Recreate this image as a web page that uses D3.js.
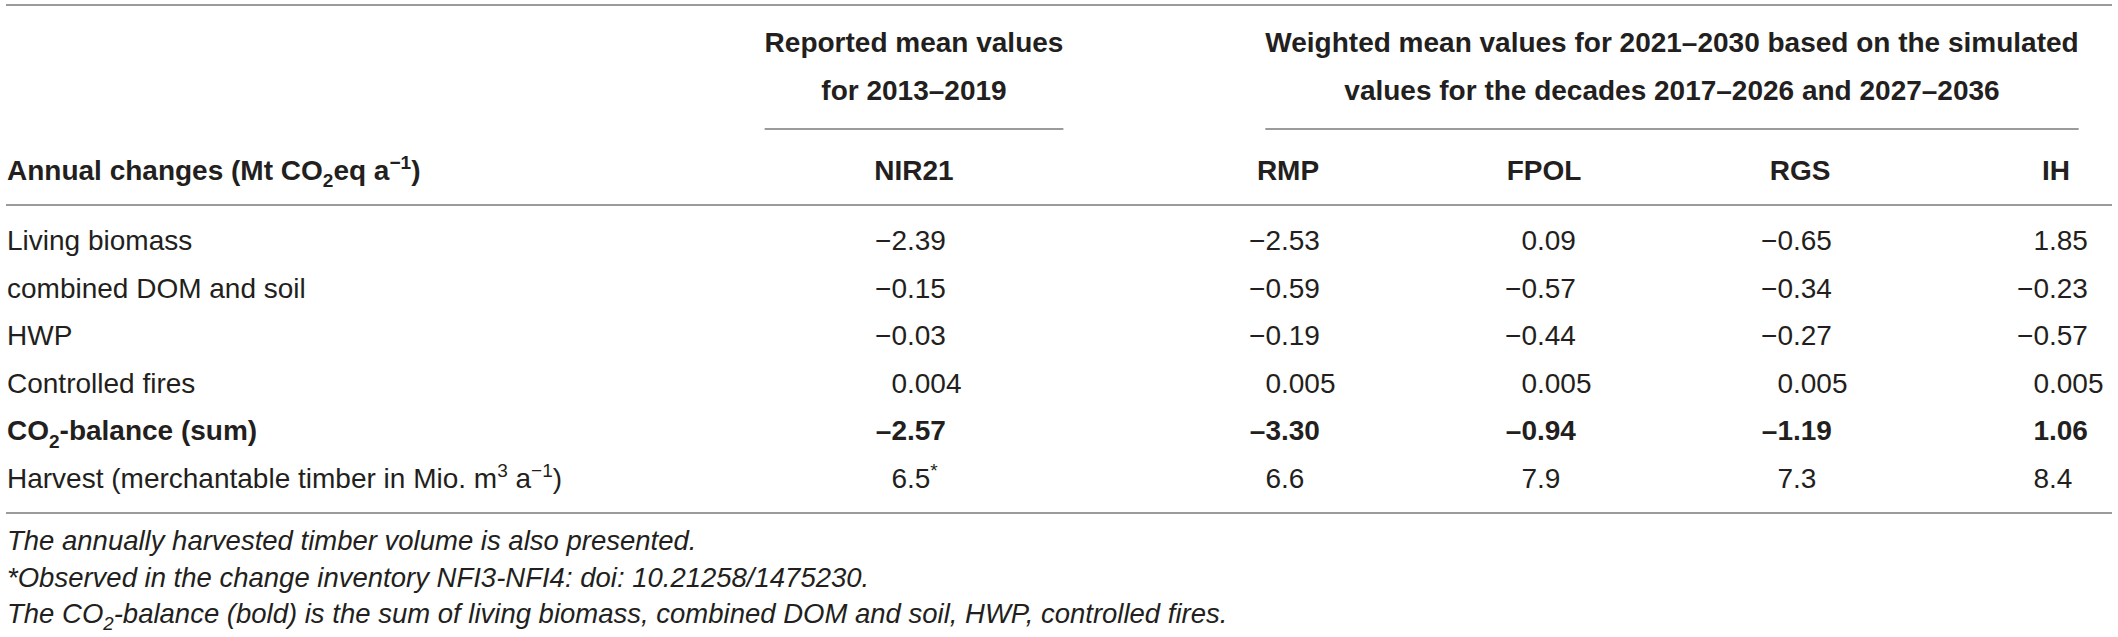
<!DOCTYPE html>
<html>
<head>
<meta charset="utf-8">
<script src="https://cdn.jsdelivr.net/npm/d3@7"></script>
<style>
    body { margin: 0; background: #fff; }
    text { font-family: "Liberation Sans", Arial, Helvetica, sans-serif; fill: #231f20; }
</style>
</head>
<body>
<svg id="chart" width="2118" height="637"></svg>
<script>
"use strict";

// ---- table data ----
// _{..} = subscript, ^{..} = superscript
let rowLabels = [
    "Living biomass",
    "combined DOM and soil",
    "HWP",
    "Controlled fires",
    "CO_{2}-balance (sum)",
    "Harvest (merchantable timber in Mio. m^{3} a^{−1})"
];
let rowDecimals = [2, 2, 2, 3, 2, 1];
let boldRow = 4;

let columns = ["NIR21", "RMP", "FPOL", "RGS", "IH"];
let nir21 = [-2.39, -0.15, -0.03, 0.004, -2.57, 6.5];
let rmp = [-2.53, -0.59, -0.19, 0.005, -3.30, 6.6];
let fpol = [0.09, -0.57, -0.44, 0.005, -0.94, 7.9];
let rgs = [-0.65, -0.34, -0.27, 0.005, -1.19, 7.3];
let ih = [1.85, -0.23, -0.57, 0.005, 1.06, 8.4];
let values = [nir21, rmp, fpol, rgs, ih];
// footnote marks on single cells: [row, column, mark]
let cellMarks = [[5, 0, "*"]];

let stubHeader = "Annual changes (Mt CO_{2}eq a^{−1})";
let groupHeaders = [
    {lines: ["Reported mean values", "for 2013–2019"], cols: ["NIR21"]},
    {lines: ["Weighted mean values for 2021–2030 based on the simulated",
             "values for the decades 2017–2026 and 2027–2036"], cols: ["RMP", "FPOL", "RGS", "IH"]}
];
let footnotes = [
    "The annually harvested timber volume is also presented.",
    "*Observed in the change inventory NFI3-NFI4: doi: 10.21258/1475230.",
    "The CO_{2}-balance (bold) is the sum of living biomass, combined DOM and soil, HWP, controlled fires."
];

// ---- layout ----
let left = 6, right = 2112,
    fontSize = 28, noteSize = 27.5,
    ruleColor = "#9b9b9b";

let svg = d3.select("#chart");

// decimal point position for each column
let scenarioX = d3.scalePoint().domain(columns.slice(1)).range([1281, 2049]);
function decX(col) {
    return col === "NIR21" ? 907 : scenarioX(col);
}
function colCenter(col) {
    return decX(col) + 7;
}

let rowY = d3.scalePoint().domain(d3.range(rowLabels.length)).range([250, 488]);

// write a string with _{sub} and ^{sup} parts into a text element
function rich(sel, str, size) {
    let parts = str.split(/(_\{[^}]*\}|\^\{[^}]*\})/).filter(s => s.length);
    let shift = 0;
    parts.forEach(function (p) {
        let t = sel.append("tspan"), dy = 0, txt = p, small = false;
        if (p.startsWith("_{")) { txt = p.slice(2, -1); dy = size * 0.26; small = true; }
        else if (p.startsWith("^{")) { txt = p.slice(2, -1); dy = -size * 0.38; small = true; }
        t.attr("dy", dy - shift).text(txt);
        if (small) t.style("font-size", (size * 0.68) + "px");
        shift = dy;
    });
    return sel;
}

function rule(y, x1, x2) {
    svg.append("line")
        .attr("x1", x1).attr("x2", x2)
        .attr("y1", y).attr("y2", y)
        .attr("stroke", ruleColor)
        .attr("stroke-width", 2);
}

// rules
rule(5, left, right);
rule(205, left, right);
rule(513, left, right);

// group headers with their own short rules
groupHeaders.forEach(function (g) {
    let cx = (colCenter(g.cols[0]) + colCenter(g.cols[g.cols.length - 1])) / 2;
    let maxW = 0;
    g.lines.forEach(function (line, i) {
        let t = svg.append("text")
            .attr("x", cx)
            .attr("y", 52 + i * 47.5)
            .attr("text-anchor", "middle")
            .style("font-size", fontSize + "px")
            .style("font-weight", "bold")
            .text(line);
        maxW = Math.max(maxW, t.node().getComputedTextLength());
    });
    rule(129, cx - maxW / 2, cx + maxW / 2);
});

// column headers
rich(svg.append("text")
    .attr("x", left + 1).attr("y", 180)
    .style("font-size", fontSize + "px")
    .style("font-weight", "bold"), stubHeader, fontSize);

svg.selectAll("text.colhead")
    .data(columns)
    .enter().append("text")
    .attr("class", "colhead")
    .attr("x", d => colCenter(d))
    .attr("y", 180)
    .attr("text-anchor", "middle")
    .style("font-size", fontSize + "px")
    .style("font-weight", "bold")
    .text(d => d);

// row labels
rowLabels.forEach(function (lab, i) {
    rich(svg.append("text")
        .attr("x", left + 1).attr("y", rowY(i))
        .style("font-size", fontSize + "px")
        .style("font-weight", i === boldRow ? "bold" : "normal"), lab, fontSize);
});

// cells, aligned on the decimal point
let cells = [];
values.forEach(function (series, c) {
    series.forEach(function (v, r) {
        let s = d3.format("." + rowDecimals[r] + "f")(v);
        if (r === boldRow) s = s.replace("−", "–");
        let parts = s.split(".");
        let mark = cellMarks.find(m => m[0] === r && m[1] === c);
        cells.push({col: columns[c], row: r, whole: parts[0], frac: "." + parts[1], mark: mark ? mark[2] : ""});
    });
});

let cell = svg.selectAll("g.cell")
    .data(cells)
    .enter().append("g")
    .attr("class", "cell")
    .attr("transform", d => "translate(" + decX(d.col) + "," + rowY(d.row) + ")")
    .style("font-size", fontSize + "px")
    .style("font-weight", d => d.row === boldRow ? "bold" : "normal");

cell.append("text")
    .attr("text-anchor", "end")
    .text(d => d.whole);

cell.append("text")
    .attr("text-anchor", "start")
    .each(function (d) {
        let t = d3.select(this);
        t.append("tspan").text(d.frac);
        if (d.mark) {
            t.append("tspan")
                .attr("dy", -fontSize * 0.38)
                .style("font-size", (fontSize * 0.68) + "px")
                .text(d.mark);
        }
    });

// footnotes
footnotes.forEach(function (f, i) {
    rich(svg.append("text")
        .attr("x", left + 1).attr("y", 550 + i * 36.5)
        .style("font-size", noteSize + "px")
        .style("font-style", "italic"), f, noteSize);
});
</script>
</body>
</html>
